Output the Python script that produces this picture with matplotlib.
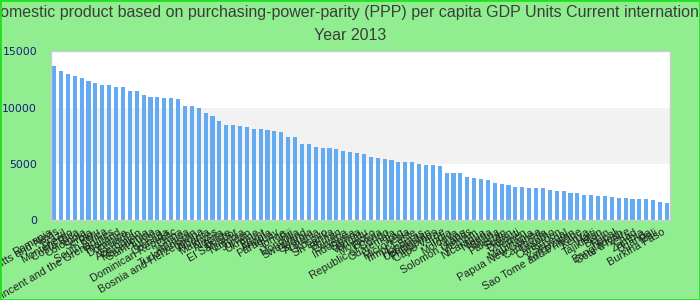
import matplotlib
matplotlib.use("Agg")
import matplotlib.pyplot as plt
from matplotlib.patches import Rectangle

title_line1 = "Gross domestic product based on purchasing-power-parity (PPP) per capita GDP Units Current international dollar"
title_line2 = "Year 2013"

countries = [
    "Romania", "Saint Kitts and Nevis", "Brazil", "Montenegro", "Costa Rica",
    "Colombia", "Serbia", "Peru", "South Africa", "Saint Vincent and the Grenadines",
    "Thailand", "Dominica", "Ecuador", "Azerbaijan", "Macedonia",
    "Saint Lucia", "Tunisia", "Grenada", "Dominican Republic", "China",
    "Jamaica", "Turkmenistan", "Bosnia and Herzegovina", "Albania", "Maldives",
    "Algeria", "Belize", "El Salvador", "Namibia", "Jordan",
    "Ukraine", "Egypt", "Angola", "Paraguay", "Tonga",
    "Fiji", "Mongolia", "Swaziland", "Georgia", "Armenia",
    "Kosovo", "Sri Lanka", "Bhutan", "Guyana", "Indonesia",
    "Samoa", "Vanuatu", "Morocco", "Bolivia", "Republic of Congo",
    "Guatemala", "Iraq", "Micronesia", "Timor-Leste", "Honduras",
    "Uzbekistan", "Philippines", "Cape Verde", "India", "Moldova",
    "Laos", "Solomon Islands", "Vietnam", "Nicaragua", "Nigeria",
    "Ghana", "Pakistan", "Sudan", "Djibouti", "Yemen",
    "Mauritania", "Papua New Guinea", "Cambodia", "Lesotho", "Cameroon",
    "Senegal", "Kyrgyzstan", "Sao Tome and Principe", "Kenya", "Haiti",
    "Tajikistan", "Benin", "Nepal", "Bangladesh", "Cote d'Ivoire",
    "Chad", "Zambia", "Uganda", "Mali", "Burkina Faso",
]

gdp_ppp_per_capita = [
    13690, 13250, 12980, 12800, 12630,
    12360, 12180, 12000, 12000, 11830,
    11830, 11470, 11470, 11120, 10940,
    10940, 10850, 10850, 10760, 10140,
    10140, 9960, 9510, 9250, 8800,
    8450, 8450, 8360, 8270, 8090,
    8090, 8000, 7910, 7830, 7380,
    7380, 6760, 6760, 6490, 6400,
    6400, 6310, 6140, 6050, 5960,
    5870, 5600, 5510, 5420, 5340,
    5160, 5160, 5160, 4980, 4890,
    4890, 4800, 4180, 4180, 4180,
    3820, 3740, 3650, 3560, 3290,
    3200, 3110, 2930, 2930, 2850,
    2850, 2850, 2670, 2580, 2580,
    2400, 2400, 2220, 2220, 2130,
    2130, 2050, 1960, 1960, 1870,
    1870, 1870, 1780, 1600, 1510,
]

y_ticks = [0, 5000, 10000, 15000]

fig = plt.figure(figsize=(7, 3), dpi=100, facecolor="#90ee90")
ax = fig.add_axes([51 / 700, 1 - 220 / 300, 619 / 700, (220 - 51.3) / 300])
ax.set_facecolor("white")

# alternating band
ax.axhspan(5000, 10000, color="#f2f2f2", zorder=0, lw=0)

x = list(range(len(countries)))
ax.bar(x, gdp_ppp_per_capita, width=0.6, color="#63aaf2", zorder=2)

ax.set_xlim(-0.45, len(countries) - 1 + 0.45)
ax.set_ylim(0, 15000)
ax.set_yticks(y_ticks)
ax.set_yticklabels([str(v) for v in y_ticks], color="#1a1a80",
                   fontsize=7.8, family="DejaVu Sans")
ax.tick_params(axis="y", length=0, pad=10)
ax.tick_params(axis="x", length=0, pad=5)
ax.set_xticks(x)
ax.set_xticklabels(countries, rotation=30, ha="right", rotation_mode="default",
                   fontsize=7.8, color="#222222", family="Liberation Sans")
for s in ax.spines.values():
    s.set_color("#cccccc")
    s.set_linewidth(1)

fig.text(0.5, 1 - 13 / 300, title_line1, ha="center", va="center",
         fontsize=11.5, color="#3c3c3c", family="Liberation Sans")
fig.text(0.5, 1 - 36 / 300, title_line2, ha="center", va="center",
         fontsize=11.5, color="#3c3c3c", family="Liberation Sans")

fig.patches.append(Rectangle((0, 0), 1, 1, transform=fig.transFigure,
                             fill=False, edgecolor="#22e022", lw=2, zorder=10))

fig.savefig("out.png", dpi=100, facecolor=fig.get_facecolor())
